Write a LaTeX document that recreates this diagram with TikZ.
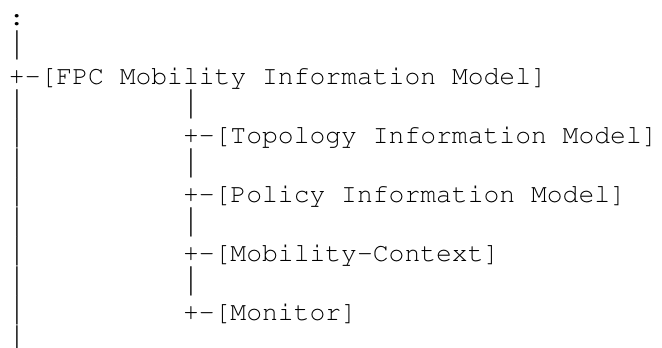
\documentclass[tikz,border=0pt]{standalone}
\usepackage[T1]{fontenc}
\usepackage{fontspec}
\newfontfamily\barfont{Liberation Mono}
% a slim bar stretched to fill its character cell top to bottom
\newcommand\cellbar{\makebox[15.82pt]{\raisebox{1.5pt}{\scalebox{0.65}[1.19]{|}}}}
\begin{document}
\begin{tikzpicture}[
    x=15.82pt, y=-29.5pt,
    ascii/.style={inner sep=0pt, outer sep=0pt, anchor=base west,
      font=\fontsize{26.37}{29.5}\fontencoding{T1}\fontfamily{pcr}\selectfont},
    bar/.style={ascii, font=\fontsize{26.37}{29.5}\barfont}]
  % page frame
  \path[use as bounding box] (0pt,0pt) rectangle (662pt,-348pt);
  \begin{scope}[shift={(9pt,-25pt)}]
    % (column, row) grid of the monospaced tree
    \node[ascii] (dots)  at (0,0)  {:};
    \node[bar]   (b1)    at (0,1)  {\cellbar};
    \node[ascii] (fpc)   at (0,2)  {+-[FPC Mobility Information Model]};
    \node[bar]   (b3a)   at (0,3)  {\cellbar};
    \node[bar]   (b3b)   at (11,3) {\cellbar};
    \node[bar]   (b4)    at (0,4)  {\cellbar};
    \node[ascii] (topo)  at (11,4) {+-[Topology Information Model]};
    \node[bar]   (b5a)   at (0,5)  {\cellbar};
    \node[bar]   (b5b)   at (11,5) {\cellbar};
    \node[bar]   (b6)    at (0,6)  {\cellbar};
    \node[ascii] (pol)   at (11,6) {+-[Policy Information Model]};
    \node[bar]   (b7a)   at (0,7)  {\cellbar};
    \node[bar]   (b7b)   at (11,7) {\cellbar};
    \node[bar]   (b8)    at (0,8)  {\cellbar};
    \node[ascii] (ctx)   at (11,8) {+-[Mobility-Context]};
    \node[bar]   (b9a)   at (0,9)  {\cellbar};
    \node[bar]   (b9b)   at (11,9) {\cellbar};
    \node[bar]   (b10)   at (0,10) {\cellbar};
    \node[ascii] (mon)   at (11,10) {+-[Monitor]};
    \node[bar]   (b11)   at (0,11) {\cellbar};
  \end{scope}
\end{tikzpicture}
\end{document}
